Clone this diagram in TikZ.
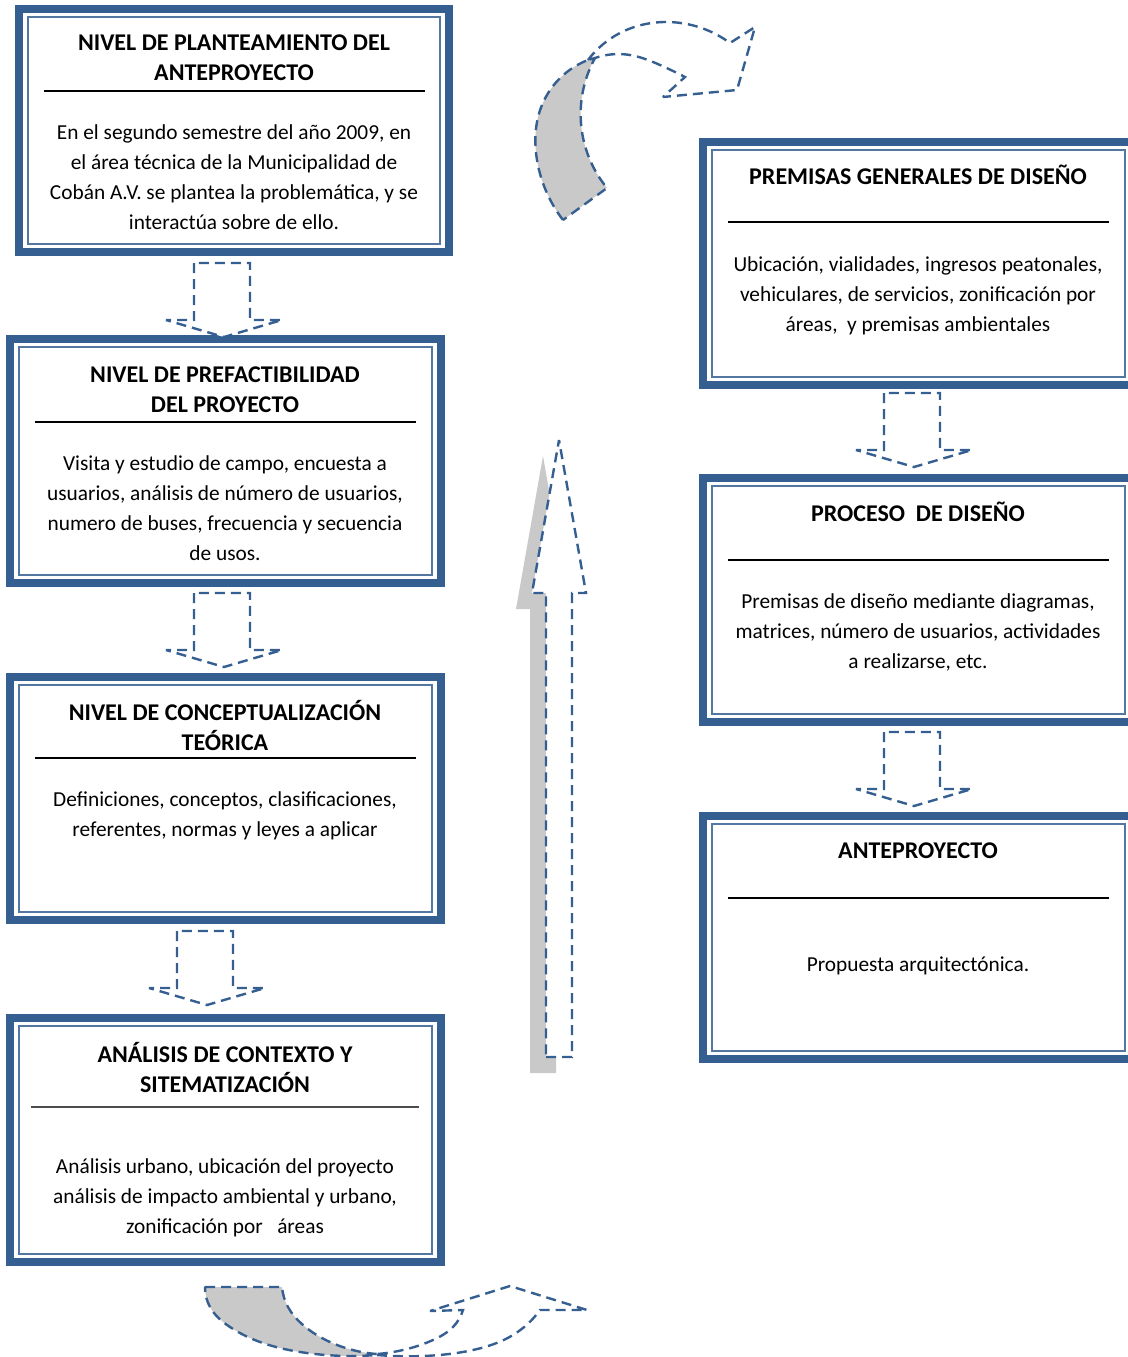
\documentclass[tikz,border=0pt]{standalone}
\usepackage{fontspec}
\setmainfont{Carlito}
\usetikzlibrary{fit}
\usetikzlibrary{hobby}
\definecolor{frameblue}{RGB}{54,95,145}
\definecolor{shadegray}{RGB}{201,201,201}
\tikzstyle{panel}=[draw=frameblue, line width=6pt, inner sep=0pt, outer sep=0pt]
\tikzstyle{panel line}=[draw=frameblue!85, line width=1.4pt]
\tikzstyle{heading}=[font=\fontsize{18}{22.5}\selectfont\bfseries, align=center]
\tikzstyle{body}=[font=\fontsize{16}{22.5}\selectfont, align=center]
\tikzstyle{rule}=[line width=1.5pt]
\tikzstyle{outline}=[draw=frameblue, line width=1.8pt, miter limit=2, dash pattern=on 7.5pt off 4.5pt]
\tikzstyle{shade}=[fill=shadegray]
\tikzset{
  down arrow/.pic={
    \draw[outline, fill=white] (-28,0) -- (-28,57) -- (-56,57) -- (2,74)
      -- (60,57) -- (28,57) -- (28,0) -- cycle;
  }
}

\begin{document}
\begin{tikzpicture}[x=0.75pt, y=-0.75pt, use Hobby shortcut]
  \useasboundingbox (0,0) rectangle (1128,1357);

  % left column
  \node[panel, fit={(19,9) (449,252)}] (p1) {};
  \node[panel, fit={(10,339) (441,583)}] (p2) {};
  \node[panel, fit={(10,677) (441,920)}] (p3) {};
  \node[panel, fit={(10,1018) (441,1262)}] (p4) {};
  % right column
  \node[panel, fit={(703,142) (1134,385)}] (q1) {};
  \node[panel, fit={(703,478) (1134,722)}] (q2) {};
  \node[panel, fit={(703,816) (1134,1059)}] (q3) {};

  \foreach \p in {p1,p2,p3,p4,q1,q2,q3}
    \draw[panel line] ([shift={(9,8)}]\p.north west) rectangle ([shift={(-9,-8)}]\p.south east);

  \node[heading] (p1 title) at (234,58) {NIVEL DE PLANTEAMIENTO DEL\\ANTEPROYECTO};
  \draw[rule] (44,91) -- (425,91);
  \node[body] (p1 text) at (234,177.5) {En el segundo semestre del año 2009, en\\el área técnica de la Municipalidad de\\Cobán A.V. se plantea la problemática, y se\\interactúa sobre de ello.};

  \node[heading] (p2 title) at (225,389.5) {NIVEL DE PREFACTIBILIDAD\\DEL PROYECTO};
  \draw[rule] (35,422) -- (416,422);
  \node[body] (p2 text) at (225,508) {Visita y estudio de campo, encuesta a\\usuarios, análisis de número de usuarios,\\numero de buses, frecuencia y secuencia\\de usos.};

  \node[heading] (p3 title) at (225,725.5) {NIVEL DE CONCEPTUALIZACIÓN\\TEÓRICA};
  \draw[rule] (35,758) -- (416,758);
  \node[body] (p3 text) at (225,815.5) {Definiciones, conceptos, clasificaciones,\\referentes, normas y leyes a aplicar};

  \node[heading] (p4 title) at (225,1067) {ANÁLISIS DE CONTEXTO Y\\SITEMATIZACIÓN};
  \draw[line width=0.8pt, black!70] (31,1107) -- (419,1107);
  \node[body] (p4 text) at (225,1197.5) {Análisis urbano, ubicación del proyecto\\análisis de impacto ambiental y urbano,\\zonificación por\ \ \ áreas};

  \node[heading] (q1 title) at (918,175) {PREMISAS GENERALES DE DISEÑO};
  \draw[rule] (728,222) -- (1109,222);
  \node[body] (q1 text) at (918,295.5) {Ubicación, vialidades, ingresos peatonales,\\vehiculares, de servicios, zonificación por\\áreas,\ \ y premisas ambientales};

  \node[heading] (q2 title) at (918,512) {PROCESO\ \ DE DISEÑO};
  \draw[rule] (728,560) -- (1109,560);
  \node[body] (q2 text) at (918,632) {Premisas de diseño mediante diagramas,\\matrices, número de usuarios, actividades\\a realizarse, etc.};

  \node[heading] (q3 title) at (918,850.5) {ANTEPROYECTO};
  \draw[rule] (728,898) -- (1109,898);
  \node[body] (q3 text) at (918,966) {Propuesta arquitectónica.};

  % block arrows between the boxes
  \foreach \x/\y in {222/263, 222/593, 205/931, 912/393, 912/732}
    \pic at (\x,\y) {down arrow};

  % big arrow going up
  \fill[shade] (530,1073) -- (556,1073) -- (556,609) -- (570,609) -- (543,456)
    -- (516,609) -- (530,609) -- cycle;
  \draw[outline, fill=white] (546,1057) -- (572,1057) -- (572,593) -- (586,593)
    -- (559,440) -- (532,593) -- (546,593) -- cycle;

  % curved arrow, top
  \draw[outline, shade]
    (563,220) .. (537,160) .. (542,105) .. (588,60)
    -- (595,58) .. (581,105) .. (590,160) .. (607,188) -- cycle;
  \draw[outline, fill=white]
    (588,60) .. (620,33) .. (667,22) .. (730,43)
    -- (755,27) -- (737,90) -- (663,97) -- (685,77)
    .. (660,65) .. (630,55) .. (595,58) -- cycle;

  % curved arrow, bottom
  \draw[outline, shade]
    (205,1287) -- (282,1287) .. (288,1307) .. (303,1325) .. (330,1342) .. (377,1354)
    -- (377,1355) .. (307,1353) .. (230,1327) .. (210,1307) .. (205,1287) -- cycle;
  \draw[outline, fill=white]
    (377,1355) .. (423,1356) .. (473,1350) .. (513,1335) .. (540,1310)
    -- (587,1310) -- (510,1286) -- (430,1311) -- (463,1310)
    .. (453,1327) .. (433,1340) .. (403,1350) .. (377,1354) -- cycle;
\end{tikzpicture}
\end{document}
